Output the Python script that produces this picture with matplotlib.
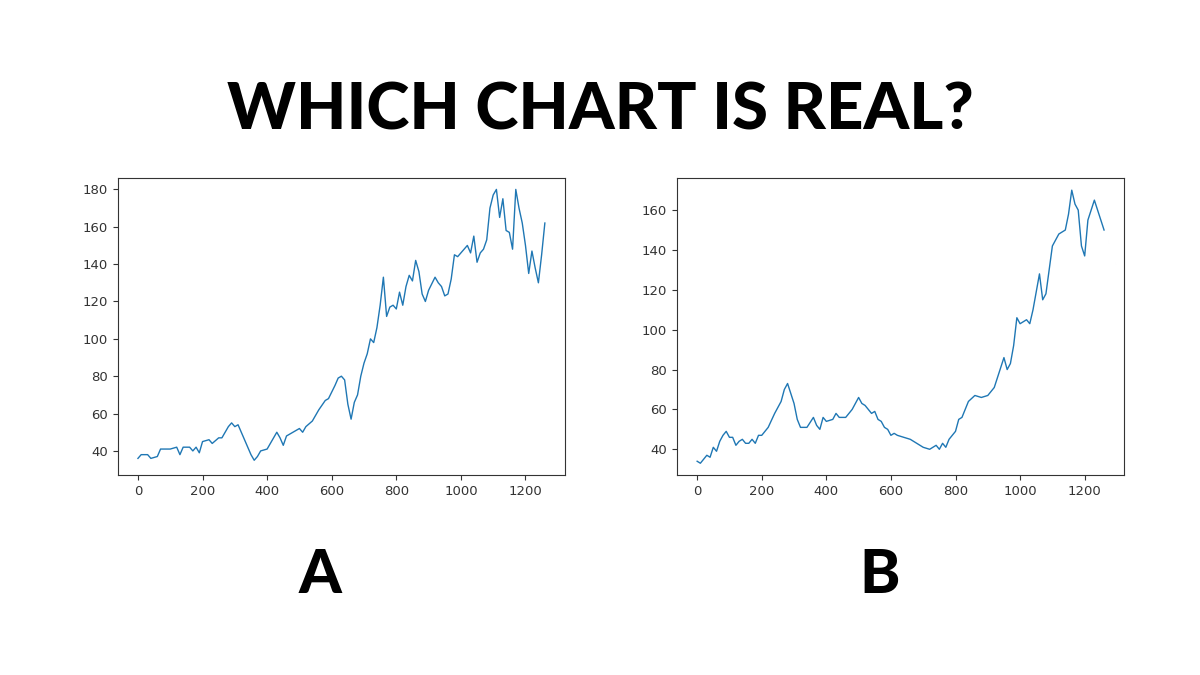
import matplotlib.pyplot as plt

# values, (x, price)
a_x = [0, 10, 30, 40, 60, 70, 100, 120, 130, 140, 160, 170, 180, 190, 200, 220, 230, 250, 260, 280,
       290, 300, 310, 320, 330, 340, 350, 360, 370, 380, 400, 420, 430, 440, 450, 460, 480, 500, 510, 520,
       540, 560, 580, 590, 610, 620, 630, 640, 650, 660, 670, 680, 690, 700, 710, 720, 730, 740, 750, 760,
       770, 780, 790, 800, 810, 820, 830, 840, 850, 860, 870, 880, 890, 900, 920, 930, 940, 950, 960, 970,
       980, 990, 1000, 1010, 1020, 1030, 1040, 1050, 1060, 1070, 1080, 1090, 1100, 1110, 1120, 1130, 1140,
       1150, 1160, 1170, 1180, 1190, 1200, 1210, 1220, 1230, 1240, 1250, 1260]
a_y = [36, 38, 38, 36, 37, 41, 41, 42, 38, 42, 42, 40, 42, 39, 45, 46, 44, 47, 47, 53,
       55, 53, 54, 50, 46, 42, 38, 35, 37, 40, 41, 47, 50, 47, 43, 48, 50, 52, 50, 53,
       56, 62, 67, 68, 75, 79, 80, 78, 65, 57, 66, 70, 80, 87, 92, 100, 98, 106, 118, 133,
       112, 117, 118, 116, 125, 118, 128, 134, 131, 142, 136, 124, 120, 126, 133, 130, 128, 123, 124, 132,
       145, 144, 146, 148, 150, 146, 155, 141, 146, 148, 153, 170, 177, 180, 165, 175, 158,
       157, 148, 180, 170, 162, 150, 135, 147, 138, 130, 145, 162]

b_x = [0, 10, 20, 30, 40, 50, 60, 70, 80, 90, 100, 110, 120, 130, 140, 150, 160, 170, 180, 190,
       200, 220, 240, 260, 270, 280, 290, 300, 310, 320, 340, 360, 370, 380, 390, 400, 420, 430, 440, 460,
       480, 500, 510, 520, 530, 540, 550, 560, 570, 580, 590, 600, 610, 620, 640, 660, 680, 700, 720, 740,
       750, 760, 770, 780, 800, 810, 820, 830, 840, 860, 880, 900, 920, 940, 950, 960, 970, 980, 990, 1000,
       1010, 1020, 1030, 1040, 1060, 1070, 1080, 1090, 1100, 1110, 1120, 1140, 1150, 1160, 1170, 1180,
       1190, 1200, 1210, 1220, 1230, 1240, 1250, 1260]
b_y = [34, 33, 35, 37, 36, 41, 39, 44, 47, 49, 46, 46, 42, 44, 45, 43, 43, 45, 43, 47,
       47, 51, 58, 64, 70, 73, 68, 63, 55, 51, 51, 56, 52, 50, 56, 54, 55, 58, 56, 56,
       60, 66, 63, 62, 60, 58, 59, 55, 54, 51, 50, 47, 48, 47, 46, 45, 43, 41, 40, 42,
       40, 43, 41, 45, 49, 55, 56, 60, 64, 67, 66, 67, 71, 81, 86, 80, 83, 92, 106, 103,
       104, 105, 103, 110, 128, 115, 118, 130, 142, 145, 148, 150, 158, 170, 163, 160,
       142, 137, 155, 160, 165, 160, 155, 150]

fig = plt.figure(figsize=(12, 6.75), dpi=100)
fig.patch.set_facecolor("white")

fig.text(0.5, 0.835, "WHICH CHART IS REAL?", ha="center", va="center",
         fontsize=47, fontweight="black", family="Lato")

for left, xs, ys, lab, lab_x, ylim in [(0.098, a_x, a_y, "A", 0.267, (27, 186)),
                                       (0.564, b_x, b_y, "B", 0.733, (27, 176))]:
    ax = fig.add_axes([left, 0.296, 0.373, 0.44])
    ax.plot(xs, ys, color="#1f77b4", linewidth=1)
    ax.set_xlim(-63, 1323)
    ax.set_ylim(*ylim)
    ax.set_xticks(range(0, 1201, 200))
    ax.tick_params(labelsize=9.5, colors="#333333")
    for s in ax.spines.values():
        s.set_color("#333333")
    fig.text(lab_x, 0.148, lab, ha="center", va="center",
             fontsize=44, fontweight="black", family="Lato")

fig.savefig("out.png", dpi=100)
